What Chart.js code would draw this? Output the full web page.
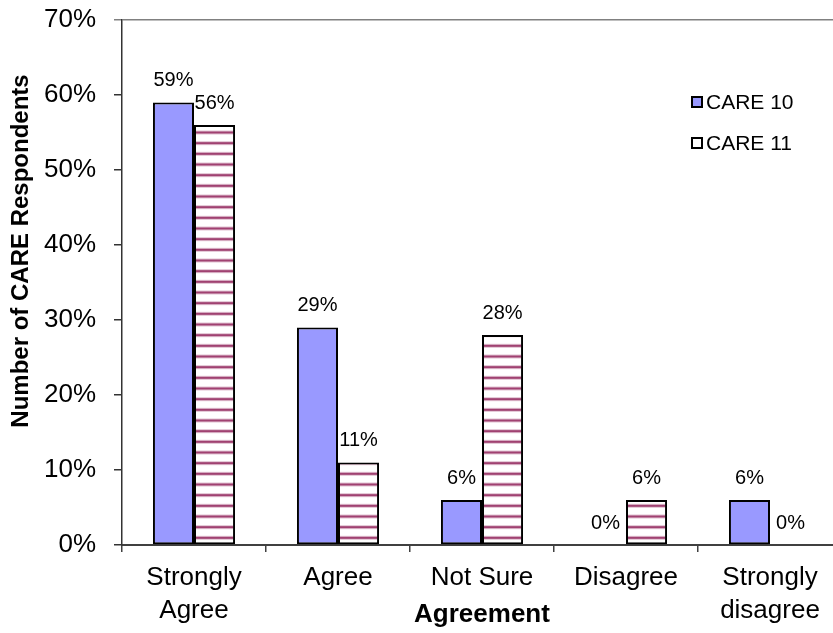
<!DOCTYPE html>
<html>
<head>
<meta charset="utf-8">
<script src="https://cdn.jsdelivr.net/npm/chart.js@4/dist/chart.umd.min.js"></script>
<style>
  html, body { margin: 0; padding: 0; background: #fff; overflow: hidden; }
  #wrap { position: relative; width: 833px; height: 633px; overflow: hidden; }
  canvas { display: block; }
</style>
</head>
<body>
<div id="wrap"><canvas id="c" width="860" height="633"></canvas></div>
<script>
// Survey answers per agreement level, share of respondents (%)
const categories = [['Strongly', 'Agree'], 'Agree', 'Not Sure', 'Disagree', ['Strongly', 'disagree']];
const seriesNames = ['CARE 10', 'CARE 11'];
const care10 = [59, 29, 6, 0, 6];
const care11 = [56, 11, 28, 6, 0];
const yTickValues = [0, 10, 20, 30, 40, 50, 60, 70];
const xTitle = 'Agreement';
const yTitle = 'Number of CARE Respondents';

const FONT = '"Liberation Sans", Arial, sans-serif';
const canvas = document.getElementById('c');
const ctx = canvas.getContext('2d');

// White fill with horizontal maroon stripes
function stripePattern() {
  const p = document.createElement('canvas');
  p.width = 8; p.height = 32;
  const g = p.getContext('2d');
  g.fillStyle = '#fff';
  g.fillRect(0, 0, 8, 32);
  [4.5, 15.17, 25.83].forEach(cy => {
    g.fillStyle = 'rgba(153,51,102,0.30)';
    g.fillRect(0, cy - 2, 8, 4);
    g.fillStyle = 'rgba(153,51,102,0.90)';
    g.fillRect(0, cy - 1, 8, 2);
  });
  return ctx.createPattern(p, 'repeat');
}

const legendFills = ['#9999FF', '#FFFFFF'];

const valueLabels = {
  id: 'valueLabels',
  afterDatasetsDraw(chart) {
    const c = chart.ctx;
    c.save();
    c.font = '20px ' + FONT;
    c.fillStyle = '#000';
    c.textAlign = 'center';
    c.textBaseline = 'middle';
    chart.data.datasets.forEach((ds, i) => {
      chart.getDatasetMeta(i).data.forEach((bar, j) => {
        c.fillText(ds.data[j] + '%', bar.x, bar.y - 22);
      });
    });
    c.restore();
  }
};

const sideLegend = {
  id: 'sideLegend',
  afterDraw(chart) {
    const c = chart.ctx;
    c.save();
    c.font = '21px ' + FONT;
    c.textBaseline = 'middle';
    c.textAlign = 'left';
    const rows = [102, 143];
    chart.data.datasets.forEach((ds, i) => {
      const y = rows[i];
      c.fillStyle = '#000';
      c.fillRect(691, y - 6, 12, 12);
      c.fillStyle = legendFills[i];
      c.fillRect(693, y - 4, 8, 8);
      c.fillStyle = '#000';
      c.fillText(ds.label, 706, y + 1);
    });
    c.restore();
  }
};

const axisTitles = {
  id: 'axisTitles',
  afterDraw(chart) {
    const c = chart.ctx;
    const xs = chart.scales.x;
    c.save();
    c.fillStyle = '#000';
    c.font = 'bold 26px ' + FONT;
    c.textAlign = 'center';
    c.textBaseline = 'alphabetic';
    c.fillText(xTitle, (xs.left + xs.right) / 2, 622);
    c.translate(21, 251);
    c.rotate(-Math.PI / 2);
    c.font = 'bold 24px ' + FONT;
    c.textBaseline = 'middle';
    c.fillText(yTitle, 0, 0);
    c.restore();
  }
};

const zeroless = c => (c.raw === 0 ? 0 : 2);

new Chart(ctx, {
  type: 'bar',
  data: {
    labels: categories,
    datasets: [
      { label: seriesNames[0], data: care10, backgroundColor: '#9999FF',
        borderColor: '#000', borderWidth: zeroless, borderSkipped: false,
        categoryPercentage: 0.57, barPercentage: 1 },
      { label: seriesNames[1], data: care11, backgroundColor: stripePattern(),
        borderColor: '#000', borderWidth: zeroless, borderSkipped: false,
        categoryPercentage: 0.57, barPercentage: 1 }
    ]
  },
  options: {
    responsive: false,
    animation: false,
    devicePixelRatio: 1,
    layout: { padding: { top: 20, right: 18, left: 0, bottom: 0 } },
    plugins: { legend: { display: false }, tooltip: { enabled: false }, title: { display: false } },
    scales: {
      x: {
        grid: { offset: true, drawOnChartArea: false, tickLength: 7, tickColor: '#404040', lineWidth: 1.5 },
        border: { color: '#404040', width: 2 },
        ticks: { font: { family: FONT, size: 26, lineHeight: 1.25 }, color: '#000', padding: 10,
                 maxRotation: 0, autoSkip: false },
        afterFit(s) { s.height = 88; s.paddingLeft = 0; s.paddingRight = 0; }
      },
      y: {
        min: yTickValues[0],
        max: yTickValues[yTickValues.length - 1],
        afterBuildTicks(s) { s.ticks = yTickValues.map(v => ({ value: v })); },
        ticks: { callback: v => v + '%', font: { family: FONT, size: 26 }, color: '#000', padding: 18 },
        grid: {
          color: c => (c.tick && c.tick.value === 70 ? '#808080' : 'rgba(0,0,0,0)'),
          tickColor: c => (c.tick && c.tick.value === 70 ? '#808080' : '#333'),
          lineWidth: 1.5, tickLength: 8
        },
        border: { color: '#333', width: 1.5 },
        afterFit(s) { s.width = 122; s.paddingTop = 0; s.paddingBottom = 0; }
      }
    }
  },
  plugins: [valueLabels, sideLegend, axisTitles]
});
</script>
</body>
</html>
